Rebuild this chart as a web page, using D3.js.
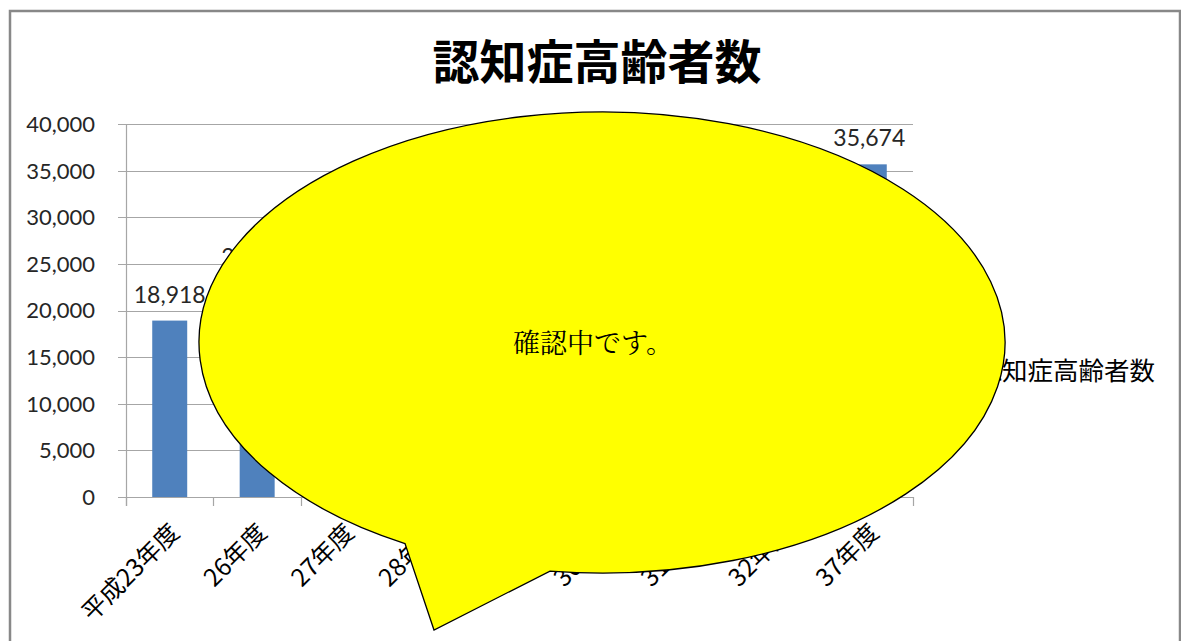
<!DOCTYPE html>
<html><head><meta charset="utf-8">
<script src="https://cdn.jsdelivr.net/npm/d3@7"></script>
<style>
html,body{margin:0;padding:0;background:#fff;}
svg{display:block;}
</style>
</head><body>
<svg id="chart" width="1181" height="641"></svg>
<script>
const title = "認知症高齢者数";
const seriesName = "認知症高齢者数";
const categories = ["平成23年度","26年度","27年度","28年度","29年度","30年度","31年度","32年度","37年度"];
const values = [18918, 22960, 24058, 25317, 26509, 27781, 28963, 30226, 35674];
const yTicks = [0, 5000, 10000, 15000, 20000, 25000, 30000, 35000, 40000];
const bubbleText = "確認中です。";

const svg = d3.select("#chart");
const W = 1181, H = 641;
const m = {left:126, right:268, top:124, bottom:144};
const plotW = W - m.left - m.right, plotH = H - m.top - m.bottom;

// chart border
svg.append("rect").attr("x",10).attr("y",11).attr("width",1170).attr("height",700)
  .attr("fill","#fff").attr("stroke","#888").attr("stroke-width",2.5);

// title
svg.append("text").attr("x",597).attr("y",79).attr("text-anchor","middle")
  .attr("font-family","'Noto Sans CJK JP'").attr("font-weight","bold").attr("font-size",47)
  .attr("fill","#000").text(title);

const x = d3.scaleBand().domain(categories).range([m.left, m.left+plotW]).paddingInner(0.6).paddingOuter(0.3);
const xOuter = d3.scaleBand().domain(categories).range([m.left, m.left+plotW]);
const y = d3.scaleLinear().domain([0,40000]).range([m.top+plotH, m.top]);

const g = svg.append("g");
// gridlines
g.selectAll("line.grid").data(yTicks).join("line")
  .attr("x1",m.left-8).attr("x2",m.left+plotW)
  .attr("y1",d=>Math.round(y(d))+0.5).attr("y2",d=>Math.round(y(d))+0.5)
  .attr("stroke","#a6a6a6").attr("stroke-width",1.2);
// y axis line
g.append("line").attr("x1",m.left+0.5).attr("x2",m.left+0.5).attr("y1",y(40000)).attr("y2",y(0)+9)
  .attr("stroke","#a6a6a6").attr("stroke-width",1.2);
// x ticks
const tickXs = categories.map(c=>xOuter(c)).concat([m.left+plotW]);
g.selectAll("line.xt").data(tickXs).join("line")
  .attr("x1",d=>Math.round(d)+0.5).attr("x2",d=>Math.round(d)+0.5)
  .attr("y1",y(0)).attr("y2",y(0)+9).attr("stroke","#a6a6a6").attr("stroke-width",1.2);
// y labels
g.selectAll("text.yl").data(yTicks).join("text")
  .attr("x",95).attr("y",d=>y(d)).attr("dy","0.36em").attr("text-anchor","end")
  .attr("font-family","Lato, 'Open Sans', sans-serif").attr("font-size",22).attr("fill","#262626")
  .text(d=>d3.format(",")(d));

// bars
g.selectAll("rect.bar").data(values).join("rect")
  .attr("x",(d,i)=>x(categories[i])).attr("width",x.bandwidth())
  .attr("y",d=>y(d)).attr("height",d=>y(0)-y(d)).attr("fill","#4f81bd");
// data labels
g.selectAll("text.dl").data(values).join("text")
  .attr("x",(d,i)=>x(categories[i])+x.bandwidth()/2).attr("y",d=>y(d)-18)
  .attr("text-anchor","middle").attr("font-family","Lato, 'Open Sans', sans-serif")
  .attr("font-size",23).attr("fill","#262626").text(d=>d3.format(",")(d));
// x labels
g.selectAll("text.xl").data(categories).join("text")
  .attr("transform",c=>`translate(${xOuter(c)+xOuter.bandwidth()/2+5},${y(0)+31}) rotate(-45)`)
  .attr("text-anchor","end").attr("dy","0.35em")
  .attr("font-family","'Noto Sans CJK JP'").attr("font-size",24.5).attr("fill","#000").text(c=>c);

// legend
svg.append("rect").attr("x",956).attr("y",364).attr("width",12).attr("height",12).attr("fill","#4f81bd");
svg.append("text").attr("x",976.5).attr("y",380).attr("font-family","'Noto Sans CJK JP'")
  .attr("font-size",25.5).attr("fill","#000").text(seriesName);

// speech bubble overlay
const cx=602, cy=342.5, rx=403, ry=230.5;
const ptAt = xx => [xx, cy + ry*Math.sqrt(1 - ((xx-cx)/rx)**2)];
const p1 = ptAt(405), p2 = ptAt(550);
svg.append("path")
  .attr("d",`M${p1[0]},${p1[1]} A${rx} ${ry} 0 1 1 ${p2[0]},${p2[1]} L434,630 Z`)
  .attr("fill","#ffff00").attr("stroke","#000").attr("stroke-width",1.3);
svg.append("text").attr("x",593).attr("y",353).attr("text-anchor","middle")
  .attr("font-family","'Noto Serif CJK JP','Noto Sans CJK JP', serif").attr("font-size",27)
  .attr("fill","#000").text(bubbleText);
</script>
</body></html>
